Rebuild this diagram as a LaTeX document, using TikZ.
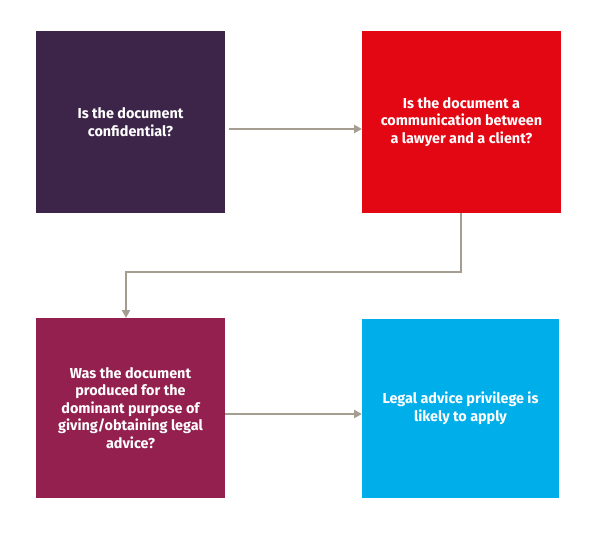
\documentclass[tikz,border=0pt]{standalone}
\usepackage{fontspec}
\setmainfont{Fira Sans}
\usetikzlibrary{arrows.meta}
\definecolor{cpurple}{HTML}{3D2549}
\definecolor{cred}{HTML}{E30613}
\definecolor{cmaroon}{HTML}{93204F}
\definecolor{ccyan}{HTML}{00AEEA}
\definecolor{cgray}{HTML}{A59D90}
\tikzset{
  qbox/.style={draw=none, minimum width=#1, inner sep=0pt, text=white, align=center,
    font=\fontsize{14.4}{17.5}\selectfont\bfseries},
  conn/.style={draw=cgray, line width=2.2pt, -{Triangle[length=8pt,width=8pt]}}
}
\begin{document}
\begin{tikzpicture}[x=1pt,y=-1pt]
\useasboundingbox (0,0) rectangle (595,533);
\fill[white] (0,0) rectangle (595,533);
\fill[cpurple] (36,31) rectangle (225,213);
\fill[cred] (362,31) rectangle (561,213);
\fill[cmaroon] (36,318) rectangle (225,498);
\fill[ccyan] (362,319) rectangle (559,498);
\node[qbox=180pt] (a) at (130.5,122) {Is the document\\confidential?};
\node[qbox=190pt] (b) at (461.5,122) {Is the document a\\communication between\\a lawyer and a client?};
\node[qbox=180pt] (c) at (130.5,408) {Was the document\\produced for the\\dominant purpose of\\giving/obtaining legal\\advice?};
\node[qbox=190pt] (d) at (460.5,408.5) {Legal advice privilege is\\likely to apply};
\coordinate (a1) at (229,129);
\coordinate (b1) at (362,129);
\coordinate (b2) at (461,213);
\coordinate (k1) at (461,272);
\coordinate (k2) at (126,272);
\coordinate (c1) at (126,318);
\coordinate (c2) at (225,414);
\coordinate (d1) at (362,414);
\draw[conn] (a1) -- (b1);
\draw[conn] (b2) -- (k1) -- (k2) -- (c1);
\draw[conn] (c2) -- (d1);
\end{tikzpicture}
\end{document}
